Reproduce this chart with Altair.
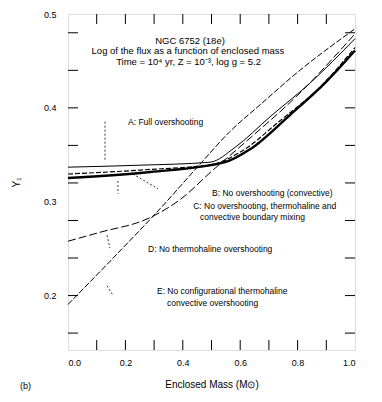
import altair as alt
import pandas as pd

# ---- curve data (enclosed mass, Y) ----
a_x = [0.0, 0.251, 0.495, 0.582, 0.704, 0.843, 1.0]
a_y = [0.3368, 0.3389, 0.3421, 0.3579, 0.3905, 0.4263, 0.4737]
b_x = [0.0, 0.251, 0.505, 0.599, 0.739, 0.878, 1.0]
b_y = [0.3295, 0.3337, 0.340, 0.3526, 0.3863, 0.4221, 0.4642]
c_x = [0.0, 0.286, 0.547, 0.634, 0.774, 0.895, 1.0]
c_y = [0.3253, 0.3316, 0.3421, 0.3558, 0.3926, 0.4263, 0.4611]
d_x = [0.0, 0.111, 0.279, 0.390, 0.505, 0.617, 0.808, 1.0]
d_y = [0.2579, 0.2674, 0.2821, 0.3021, 0.3337, 0.3632, 0.4158, 0.4789]
e_x = [0.0, 0.174, 0.321, 0.460, 0.564, 0.669, 0.808, 1.0]
e_y = [0.1905, 0.2453, 0.2926, 0.340, 0.3747, 0.4032, 0.440, 0.4842]

# ---- tick values ----
x_tick_labels = [0.0, 0.2, 0.4, 0.6, 0.8, 1.0]
y_tick_labels = [0.2, 0.3, 0.4, 0.5]
x_minor = [0.1, 0.2, 0.3, 0.4, 0.5, 0.6, 0.7, 0.8, 0.9]
y_minor = [0.16, 0.20, 0.24, 0.28, 0.32, 0.36, 0.40, 0.44, 0.48]

# ---- annotations ----
ann_text = ["A: Full overshooting",
            "B: No overshooting (convective)",
            "C: No overshooting, thermohaline and",
            "convective boundary mixing",
            "D: No thermohaline overshooting",
            "E: No configurational thermohaline",
            "convective overshooting"]
ann_x = [0.209, 0.502, 0.436, 0.46, 0.279, 0.31, 0.345]
ann_y = [0.3853, 0.3095, 0.2958, 0.2842, 0.2495, 0.2053, 0.1926]

head_text = ["NGC 6752 (18e)",
             "Log of the flux as a function of enclosed mass",
             "Time = 10\u2074 yr, Z = 10\u207b\u00b3, log g = 5.2"]
head_x = [0.425, 0.418, 0.42]
head_y = [0.4716, 0.461, 0.449]

lead_x = [0.129, 0.174, 0.226, 0.136, 0.136]
lead_y = [0.3853, 0.3221, 0.3295, 0.2642, 0.2105]
lead_x2 = [0.129, 0.174, 0.314, 0.146, 0.157]
lead_y2 = [0.3432, 0.3084, 0.3137, 0.2505, 0.200]

W, H = 287, 336
FONT = "Liberation Sans"

xs = alt.Scale(domain=[0, 1], nice=False, zero=False)
ys = alt.Scale(domain=[0.142, 0.5], nice=False, zero=False)

def curve(xv, yv, width, dash=None):
    df = pd.DataFrame({"x": xv, "y": yv})
    kw = dict(color="black", strokeWidth=width, interpolate="monotone")
    if dash:
        kw["strokeDash"] = dash
    return alt.Chart(df).mark_line(**kw).encode(
        x=alt.X("x:Q", scale=xs,
                axis=alt.Axis(values=x_tick_labels, format=".1f", ticks=False, domain=False,
                              grid=False, title="Enclosed Mass (M\u2299)", labelFontSize=9,
                              titleFontSize=10, titleFontWeight="normal", labelPadding=8,
                              titlePadding=12, labelFont=FONT, titleFont=FONT, labelColor="black")),
        y=alt.Y("y:Q", scale=ys,
                axis=alt.Axis(values=y_tick_labels, format=".1f", ticks=False, domain=False,
                              grid=False, title="Y\u2081", labelFontSize=9, titleFontSize=10,
                              titleFontWeight="normal", labelPadding=12, titlePadding=22,
                              labelFont=FONT, titleFont=FONT, labelColor="black")),
    )

lines = [
    curve(a_x, a_y, 1.0),
    curve(b_x, b_y, 1.2, [5, 2]),
    curve(c_x, c_y, 2.4),
    curve(d_x, d_y, 1.0, [8, 3]),
    curve(e_x, e_y, 1.0, [6, 2]),
]

xt = pd.DataFrame({"v": x_minor})
yt = pd.DataFrame({"v": y_minor})
ticks = [
    alt.Chart(xt).mark_rule(color="black", strokeWidth=1).encode(
        x=alt.X("v:Q", scale=xs), y=alt.value(H), y2=alt.value(H - 10)),
    alt.Chart(xt).mark_rule(color="black", strokeWidth=1).encode(
        x=alt.X("v:Q", scale=xs), y=alt.value(0), y2=alt.value(10)),
    alt.Chart(yt).mark_rule(color="black", strokeWidth=1).encode(
        y=alt.Y("v:Q", scale=ys), x=alt.value(0), x2=alt.value(10)),
    alt.Chart(yt).mark_rule(color="black", strokeWidth=1).encode(
        y=alt.Y("v:Q", scale=ys), x=alt.value(W - 10), x2=alt.value(W)),
]

lead_df = pd.DataFrame({"x": lead_x, "y": lead_y, "x2": lead_x2, "y2": lead_y2})
leaders = alt.Chart(lead_df).mark_rule(color="black", strokeWidth=0.8, strokeDash=[2, 2]).encode(
    x=alt.X("x:Q", scale=xs), y=alt.Y("y:Q", scale=ys), x2="x2:Q", y2="y2:Q")

ann_df = pd.DataFrame({"x": ann_x, "y": ann_y, "t": ann_text})
ann = alt.Chart(ann_df).mark_text(align="left", baseline="middle", fontSize=8.5, font=FONT,
                                  color="black").encode(
    x=alt.X("x:Q", scale=xs), y=alt.Y("y:Q", scale=ys), text="t:N")

head_df = pd.DataFrame({"x": head_x, "y": head_y, "t": head_text})
head = alt.Chart(head_df).mark_text(align="center", baseline="middle", fontSize=9.5, font=FONT,
                                    color="black").encode(
    x=alt.X("x:Q", scale=xs), y=alt.Y("y:Q", scale=ys), text="t:N")

panel = alt.Chart(pd.DataFrame({"t": ["(b)"]})).mark_text(
    align="left", baseline="middle", fontSize=9, font=FONT, color="black").encode(
    x=alt.value(-48), y=alt.value(372), text="t:N")

chart = alt.layer(*lines, *ticks, leaders, ann, head, panel).properties(
    width=W, height=H,
    autosize=alt.AutoSizeParams(type="none"),
    padding={"left": 60, "top": 6, "right": 19, "bottom": 44},
).configure_view(stroke="black", strokeWidth=1.2).configure(background="white")

chart.save("out.html", embed_options={"renderer": "svg", "actions": False})
